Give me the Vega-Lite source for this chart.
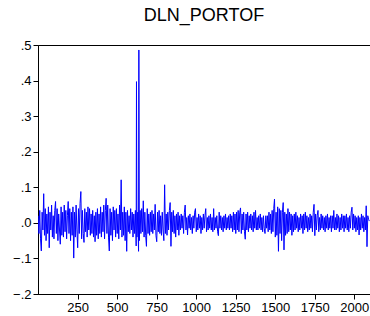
{
"$schema": "https://vega.github.io/schema/vega-lite/v6.json",
"autosize": {"type": "none"},
"padding": {"left": 38, "top": 45, "right": 0, "bottom": 22},
"width": 332,
"height": 249,
"background": "white",
"title": {"text": "DLN_PORTOF", "font": "Liberation Sans", "fontSize": 18, "fontWeight": "normal", "color": "black", "offset": 14},
"config": {
  "view": {"stroke": "black", "strokeWidth": 1},
  "axis": {"grid": false, "title": null, "labelFont": "Liberation Sans", "labelFontSize": 13, "labelColor": "black", "tickColor": "black", "domainColor": "black", "tickSize": 5, "labelPadding": 2}
},
"data": {"values": [
{"t":1,"v":0.02},{"t":6,"v":-0.03},{"t":11,"v":0.035},{"t":16,"v":-0.045},{"t":21,"v":-0.079},{"t":26,"v":0.03},{"t":31,"v":-0.02},{"t":36,"v":0.082},{"t":41,"v":-0.035},{"t":46,"v":0.04},{"t":51,"v":-0.05},{"t":56,"v":0.025},{"t":61,"v":-0.03},{"t":66,"v":0.045},{"t":71,"v":-0.07},{"t":76,"v":0.03},{"t":81,"v":-0.02},{"t":86,"v":0.05},{"t":91,"v":-0.04},{"t":96,"v":0.02},{"t":101,"v":-0.045},{"t":106,"v":0.035},{"t":111,"v":0.06},{"t":116,"v":-0.03},{"t":121,"v":0.04},{"t":126,"v":-0.05},{"t":131,"v":0.025},{"t":136,"v":-0.02},{"t":141,"v":-0.06},{"t":146,"v":0.045},{"t":151,"v":-0.035},{"t":156,"v":0.03},{"t":161,"v":-0.04},{"t":166,"v":0.05},{"t":171,"v":-0.025},{"t":176,"v":0.035},{"t":181,"v":-0.045},{"t":186,"v":0.02},{"t":191,"v":0.06},{"t":196,"v":-0.03},{"t":201,"v":0.04},{"t":206,"v":-0.05},{"t":211,"v":0.03},{"t":216,"v":-0.035},{"t":221,"v":0.045},{"t":226,"v":-0.099},{"t":231,"v":0.03},{"t":236,"v":-0.04},{"t":241,"v":0.05},{"t":246,"v":-0.02},{"t":251,"v":-0.07},{"t":256,"v":0.04},{"t":261,"v":-0.03},{"t":266,"v":0.055},{"t":271,"v":0.088},{"t":276,"v":-0.045},{"t":281,"v":0.035},{"t":286,"v":-0.03},{"t":291,"v":-0.055},{"t":296,"v":0.04},{"t":301,"v":-0.025},{"t":306,"v":0.03},{"t":311,"v":-0.04},{"t":316,"v":0.045},{"t":321,"v":-0.02},{"t":326,"v":0.04},{"t":331,"v":-0.035},{"t":336,"v":0.025},{"t":341,"v":-0.03},{"t":346,"v":0.035},{"t":351,"v":-0.04},{"t":356,"v":0.02},
{"t":361,"v":-0.053},{"t":366,"v":0.03},{"t":371,"v":-0.035},{"t":376,"v":0.04},{"t":381,"v":-0.045},{"t":386,"v":0.025},{"t":391,"v":-0.03},{"t":396,"v":0.045},{"t":401,"v":-0.04},{"t":406,"v":0.03},{"t":411,"v":-0.025},{"t":416,"v":0.05},{"t":421,"v":-0.045},{"t":426,"v":0.035},{"t":431,"v":0.069},{"t":436,"v":-0.03},{"t":441,"v":0.05},{"t":446,"v":-0.04},{"t":451,"v":-0.079},{"t":456,"v":0.04},{"t":461,"v":-0.035},{"t":466,"v":0.03},{"t":471,"v":-0.05},{"t":476,"v":0.045},{"t":481,"v":-0.02},{"t":486,"v":0.035},{"t":491,"v":-0.04},{"t":496,"v":0.04},{"t":501,"v":-0.03},{"t":506,"v":0.025},{"t":511,"v":-0.045},{"t":516,"v":0.05},{"t":521,"v":-0.02},{"t":526,"v":0.121},{"t":531,"v":-0.04},{"t":536,"v":0.03},{"t":541,"v":-0.035},{"t":546,"v":0.045},{"t":551,"v":-0.05},{"t":556,"v":0.03},{"t":561,"v":-0.08},{"t":566,"v":0.035},{"t":571,"v":-0.025},{"t":576,"v":0.02},{"t":581,"v":-0.03},{"t":586,"v":0.04},{"t":591,"v":-0.02},{"t":596,"v":0.03},{"t":601,"v":-0.04},{"t":606,"v":0.025},{"t":611,"v":-0.03},{"t":616,"v":0.035},{"t":621,"v":-0.065},{"t":623,"v":0.397},{"t":626,"v":-0.04},{"t":631,"v":0.03},{"t":636,"v":-0.08},{"t":638,"v":0.486},{"t":641,"v":-0.05},{"t":646,"v":0.035},{"t":651,"v":-0.03},{"t":656,"v":0.04},{"t":661,"v":-0.025},{"t":666,"v":0.062},{"t":671,"v":-0.04},{"t":676,"v":0.03},{"t":681,"v":-0.035},{"t":686,"v":-0.066},{"t":691,"v":0.04},{"t":696,"v":-0.03},{"t":701,"v":0.025},{"t":706,"v":-0.035},{"t":711,"v":0.03},{"t":716,"v":-0.025},
{"t":721,"v":0.035},{"t":726,"v":-0.03},{"t":731,"v":0.025},{"t":736,"v":-0.02},{"t":741,"v":0.052},{"t":746,"v":-0.035},{"t":751,"v":-0.053},{"t":756,"v":0.03},{"t":761,"v":-0.025},{"t":766,"v":0.035},{"t":771,"v":-0.03},{"t":776,"v":0.02},{"t":781,"v":-0.035},{"t":786,"v":0.03},{"t":791,"v":-0.02},{"t":796,"v":-0.05},{"t":801,"v":0.107},{"t":806,"v":-0.03},{"t":811,"v":0.025},{"t":816,"v":-0.035},{"t":821,"v":0.03},{"t":826,"v":-0.02},{"t":831,"v":0.035},{"t":836,"v":0.057},{"t":841,"v":-0.066},{"t":846,"v":0.03},{"t":851,"v":-0.025},{"t":856,"v":0.035},{"t":861,"v":-0.03},{"t":866,"v":0.02},{"t":871,"v":-0.04},{"t":876,"v":0.025},{"t":881,"v":-0.02},{"t":886,"v":0.03},{"t":891,"v":-0.035},{"t":896,"v":0.02},
{"t":901,"v":-0.02},{"t":906,"v":0.025},{"t":911,"v":-0.015},{"t":916,"v":0.02},{"t":921,"v":-0.03},{"t":926,"v":0.03},{"t":931,"v":0.05},{"t":936,"v":-0.02},{"t":941,"v":0.015},{"t":946,"v":-0.034},{"t":951,"v":0.02},{"t":956,"v":-0.015},{"t":961,"v":0.025},{"t":966,"v":-0.02},{"t":971,"v":0.015},{"t":976,"v":-0.03},{"t":981,"v":0.02},{"t":986,"v":-0.015},{"t":991,"v":0.03},{"t":996,"v":0.04},{"t":1001,"v":-0.025},{"t":1006,"v":0.015},{"t":1011,"v":-0.02},{"t":1016,"v":0.025},{"t":1021,"v":-0.015},{"t":1026,"v":0.02},{"t":1031,"v":-0.03},{"t":1036,"v":0.015},{"t":1041,"v":-0.02},{"t":1046,"v":0.025},{"t":1051,"v":-0.015},{"t":1056,"v":0.02},{"t":1061,"v":0.04},{"t":1066,"v":-0.025},{"t":1071,"v":0.015},{"t":1076,"v":-0.02},{"t":1081,"v":0.02},{"t":1086,"v":-0.015},{"t":1091,"v":0.025},{"t":1096,"v":-0.02},{"t":1101,"v":0.015},{"t":1106,"v":-0.025},{"t":1111,"v":0.04},{"t":1116,"v":-0.02},{"t":1121,"v":0.015},{"t":1126,"v":-0.015},{"t":1131,"v":0.02},{"t":1136,"v":-0.025},{"t":1141,"v":-0.036},{"t":1146,"v":0.03},{"t":1151,"v":-0.015},{"t":1156,"v":0.02},{"t":1161,"v":-0.02},{"t":1166,"v":0.015},{"t":1171,"v":-0.025},{"t":1176,"v":0.02},{"t":1181,"v":-0.015},{"t":1186,"v":0.025},{"t":1191,"v":-0.02},{"t":1196,"v":0.015},{"t":1201,"v":-0.015},{"t":1206,"v":0.02},{"t":1211,"v":-0.02},{"t":1216,"v":0.025},{"t":1221,"v":-0.015},{"t":1226,"v":0.02},{"t":1231,"v":-0.025},{"t":1236,"v":0.03},{"t":1241,"v":-0.02},{"t":1246,"v":0.025},{"t":1251,"v":-0.03},{"t":1256,"v":0.03},{"t":1261,"v":-0.02},{"t":1266,"v":0.035},{"t":1271,"v":-0.025},{"t":1276,"v":0.03},{"t":1281,"v":0.042},{"t":1286,"v":-0.03},{"t":1291,"v":0.025},{"t":1296,"v":-0.02},{"t":1301,"v":0.03},{"t":1306,"v":-0.025},{"t":1311,"v":-0.046},{"t":1316,"v":0.025},{"t":1321,"v":-0.02},{"t":1326,"v":0.03},{"t":1331,"v":-0.025},{"t":1336,"v":0.02},{"t":1341,"v":-0.015},{"t":1346,"v":0.025},{"t":1351,"v":-0.02},{"t":1356,"v":0.02},{"t":1361,"v":-0.025},{"t":1366,"v":0.03},{"t":1371,"v":-0.015},{"t":1376,"v":0.035},{"t":1381,"v":-0.02},{"t":1386,"v":0.015},{"t":1391,"v":-0.02},{"t":1396,"v":0.02},{"t":1401,"v":-0.015},{"t":1406,"v":0.025},{"t":1411,"v":-0.02},{"t":1416,"v":0.015},{"t":1421,"v":-0.025},{"t":1426,"v":0.02},{"t":1431,"v":-0.015},{"t":1436,"v":-0.03},{"t":1441,"v":0.02},{"t":1446,"v":-0.015},
{"t":1451,"v":0.02},{"t":1456,"v":-0.025},{"t":1461,"v":0.03},{"t":1466,"v":-0.02},{"t":1471,"v":0.025},{"t":1476,"v":-0.03},{"t":1481,"v":0.035},{"t":1486,"v":-0.025},{"t":1491,"v":0.04},{"t":1496,"v":0.067},{"t":1501,"v":-0.04},{"t":1506,"v":0.03},{"t":1511,"v":-0.035},{"t":1516,"v":0.045},{"t":1521,"v":-0.08},{"t":1526,"v":0.04},{"t":1531,"v":-0.03},{"t":1536,"v":0.035},{"t":1541,"v":-0.05},{"t":1546,"v":0.03},{"t":1551,"v":0.057},{"t":1556,"v":-0.076},{"t":1561,"v":0.03},{"t":1566,"v":-0.035},{"t":1571,"v":0.025},{"t":1576,"v":-0.03},{"t":1581,"v":0.04},{"t":1586,"v":-0.025},{"t":1591,"v":0.03},{"t":1596,"v":-0.02},{"t":1601,"v":0.025},{"t":1606,"v":-0.035},{"t":1611,"v":0.02},{"t":1616,"v":-0.025},
{"t":1621,"v":0.025},{"t":1626,"v":-0.02},{"t":1631,"v":0.03},{"t":1636,"v":-0.015},{"t":1641,"v":0.02},{"t":1646,"v":-0.025},{"t":1651,"v":0.015},{"t":1656,"v":-0.02},{"t":1661,"v":0.025},{"t":1666,"v":-0.015},{"t":1671,"v":0.02},{"t":1676,"v":-0.03},{"t":1681,"v":0.025},{"t":1686,"v":-0.02},{"t":1691,"v":0.03},{"t":1696,"v":-0.015},{"t":1701,"v":0.02},{"t":1706,"v":-0.025},{"t":1711,"v":0.015},{"t":1716,"v":-0.02},{"t":1721,"v":0.025},{"t":1726,"v":-0.015},{"t":1731,"v":0.02},{"t":1736,"v":-0.025},{"t":1741,"v":0.03},{"t":1746,"v":0.052},{"t":1751,"v":-0.036},{"t":1756,"v":0.025},{"t":1761,"v":-0.02},{"t":1766,"v":0.02},{"t":1771,"v":0.035},{"t":1776,"v":-0.025},{"t":1781,"v":0.015},{"t":1786,"v":-0.02},{"t":1791,"v":0.025},{"t":1796,"v":-0.015},{"t":1801,"v":0.02},{"t":1806,"v":-0.02},{"t":1811,"v":0.015},{"t":1816,"v":-0.025},{"t":1821,"v":0.02},{"t":1826,"v":-0.015},{"t":1831,"v":0.025},{"t":1836,"v":-0.02},{"t":1841,"v":0.015},{"t":1846,"v":-0.015},{"t":1851,"v":0.02},{"t":1856,"v":-0.025},{"t":1861,"v":0.02},{"t":1866,"v":-0.015},{"t":1871,"v":0.035},{"t":1876,"v":-0.02},{"t":1881,"v":0.015},{"t":1886,"v":-0.02},{"t":1891,"v":0.025},{"t":1896,"v":-0.015},{"t":1901,"v":0.02},{"t":1906,"v":-0.025},{"t":1911,"v":0.015},{"t":1916,"v":-0.02},{"t":1921,"v":0.025},{"t":1926,"v":-0.015},{"t":1931,"v":0.02},{"t":1936,"v":-0.025},{"t":1941,"v":0.02},{"t":1946,"v":-0.015},{"t":1951,"v":0.025},{"t":1956,"v":-0.02},{"t":1961,"v":0.015},{"t":1966,"v":-0.025},{"t":1971,"v":0.02},{"t":1976,"v":-0.015},{"t":1981,"v":0.03},{"t":1986,"v":0.044},{"t":1991,"v":-0.02},{"t":1996,"v":0.025},{"t":2001,"v":-0.015},{"t":2006,"v":0.02},{"t":2011,"v":-0.025},{"t":2016,"v":0.015},{"t":2021,"v":-0.02},{"t":2026,"v":0.02},{"t":2031,"v":-0.034},{"t":2036,"v":0.015},{"t":2041,"v":-0.02},{"t":2046,"v":0.025},{"t":2051,"v":-0.015},{"t":2056,"v":0.02},{"t":2061,"v":-0.025},{"t":2066,"v":0.015},{"t":2071,"v":-0.02},{"t":2076,"v":0.048},{"t":2081,"v":-0.067},{"t":2086,"v":0.02},{"t":2091,"v":0.01},{"t":2096,"v":0.005}
]},
"mark": {"type": "line", "color": "#0000FF", "strokeWidth": 1, "clip": true},
"encoding": {
  "x": {"field": "t", "type": "quantitative", "scale": {"domain": [0, 2100], "nice": false, "zero": false}, "axis": {"values": [250, 500, 750, 1000, 1250, 1500, 1750, 2000], "format": "d"}},
  "y": {"field": "v", "type": "quantitative", "scale": {"domain": [-0.2, 0.5], "nice": false, "zero": false}, "axis": {"values": [-0.2, -0.1, 0, 0.1, 0.2, 0.3, 0.4, 0.5], "labelExpr": "replace(format(datum.value, '.1f'), '0.', '.')"}}
}
}
